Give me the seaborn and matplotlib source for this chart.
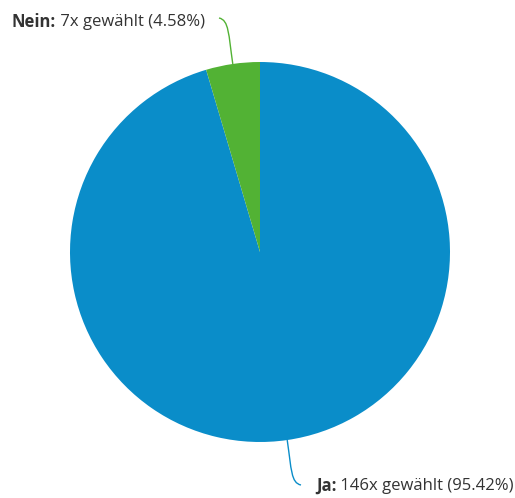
import numpy as np
import matplotlib
matplotlib.use("Agg")
import matplotlib.pyplot as plt
from matplotlib.path import Path
from matplotlib.patches import PathPatch
import seaborn as sns

# Survey answers
labels = ["Ja", "Nein"]
counts = [146, 7]
colors = ["#0a8dc9", "#52b234"]

sns.set_theme(style="white")
plt.rcParams["font.family"] = ["Open Sans", "DejaVu Sans"]

W, H = 515, 498
fig = plt.figure(figsize=(W / 100, H / 100), dpi=100)
ax = fig.add_axes([0, 0, 1, 1])

cx, cy, r = 260, H - 252, 190
wedges, _ = ax.pie(counts, colors=colors, startangle=90, counterclock=False,
                   center=(cx, cy), radius=r,
                   wedgeprops=dict(linewidth=0))
ax.set_xlim(0, W)
ax.set_ylim(0, H)
ax.set_aspect("equal")
ax.axis("off")

total = sum(counts)
text_color = "#333333"
fs = 12

# label anchors: connector end, bend control point, text anchor, alignment side
layout = {
    "Ja": dict(mid_end=(301, H - 485), bend=(291, H - 483), text_x=316, text_y=H - 486, side="left"),
    "Nein": dict(mid_end=(219, H - 18), bend=(229, H - 20), text_x=205, text_y=H - 22, side="right"),
}

fig.canvas.draw()
renderer = fig.canvas.get_renderer()

for w, lab, n in zip(wedges, labels, counts):
    ang = np.deg2rad((w.theta1 + w.theta2) / 2)
    x0, y0 = cx + r * np.cos(ang), cy + r * np.sin(ang)
    x1, y1 = cx + (r + 30) * np.cos(ang), cy + (r + 30) * np.sin(ang)
    L = layout[lab]
    verts = [(x0, y0), (x1, y1), L["bend"], L["mid_end"]]
    codes = [Path.MOVETO, Path.CURVE4, Path.CURVE4, Path.CURVE4]
    ax.add_patch(PathPatch(Path(verts, codes), facecolor="none",
                           edgecolor=w.get_facecolor(), linewidth=1))

    bold = f"{lab}:"
    rest = f" {n}x gewählt ({n / total * 100:.2f}%)"
    tb = ax.text(0, L["text_y"], bold, fontsize=fs, fontweight="bold",
                 color=text_color, va="center", ha="left")
    tr = ax.text(0, L["text_y"], rest, fontsize=fs, color=text_color,
                 va="center", ha="left")
    fig.canvas.draw()
    wb = tb.get_window_extent(renderer).width
    wr = tr.get_window_extent(renderer).width
    if L["side"] == "left":
        xs = L["text_x"]
    else:
        xs = L["text_x"] - (wb + wr)
    tb.set_x(xs)
    tr.set_x(xs + wb)

fig.savefig("out.png", dpi=100)
